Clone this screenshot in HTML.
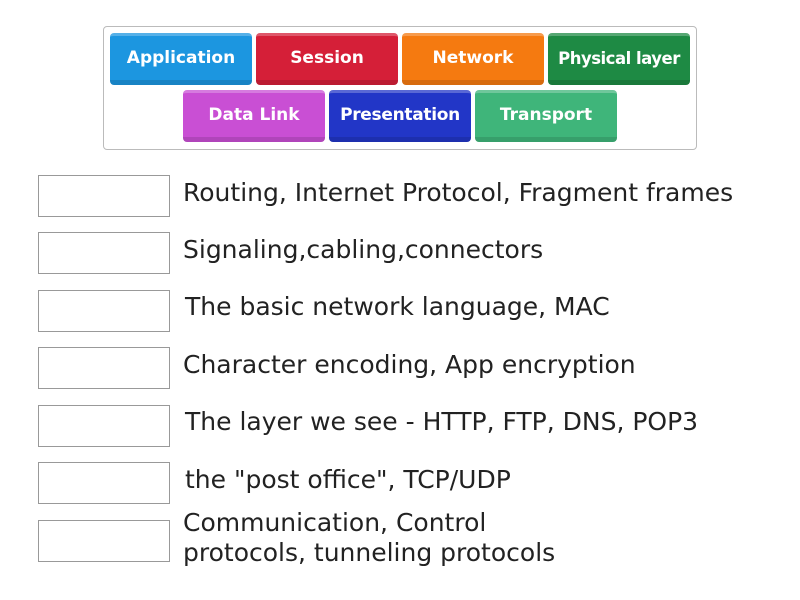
<!DOCTYPE html>
<html><head><style>
body{margin:0;width:800px;height:600px;background:#fff;font-family:"DejaVu Sans",sans-serif;position:relative;overflow:hidden}
.c{position:absolute;left:103px;top:26px;width:592px;height:122px;border:1px solid #bbb;border-radius:4px}
.b{position:absolute;width:142px;height:52px;border-radius:4px;color:#fff;font-weight:bold;font-size:17px;display:flex;align-items:center;justify-content:center;box-sizing:border-box;border-top:3px solid rgba(255,255,255,.25);border-bottom:5px solid rgba(0,0,0,.12);white-space:nowrap}
.x{position:absolute;left:38px;width:132px;height:42px;border:1px solid #999;box-sizing:border-box}
.t{position:absolute;left:183px;font-size:25px;color:#222;line-height:30px;white-space:nowrap}
</style></head><body>
<div class="c"></div>
<div class="b" style="left:110px;top:33px;background:#1c96e0">Application</div>
<div class="b" style="left:256px;top:33px;background:#d51f38">Session</div>
<div class="b" style="left:402px;top:33px;background:#f57a10">Network</div>
<div class="b" style="left:548px;top:33px;background:#1e8a44;font-size:16.5px;letter-spacing:-0.5px">Physical layer</div>
<div class="b" style="left:183px;top:90px;background:#c94fd4">Data Link</div>
<div class="b" style="left:329px;top:90px;background:#2236c7;letter-spacing:-0.3px">Presentation</div>
<div class="b" style="left:475px;top:90px;background:#3fb57a">Transport</div>

<div class="x" style="top:175px"></div><div class="t" style="top:178px">Routing, Internet Protocol, Fragment frames</div>
<div class="x" style="top:232px"></div><div class="t" style="top:235px">Signaling,cabling,connectors</div>
<div class="x" style="top:290px"></div><div class="t" style="top:292px;left:185px">The basic network language, MAC</div>
<div class="x" style="top:347px"></div><div class="t" style="top:350px">Character encoding, App encryption</div>
<div class="x" style="top:405px"></div><div class="t" style="top:407px;left:185px">The layer we see - HTTP, FTP, DNS, POP3</div>
<div class="x" style="top:462px"></div><div class="t" style="top:465px;left:185px">the "post office", TCP/UDP</div>
<div class="x" style="top:520px"></div><div class="t" style="top:508px">Communication, Control<br>protocols, tunneling protocols</div>
</body></html>
